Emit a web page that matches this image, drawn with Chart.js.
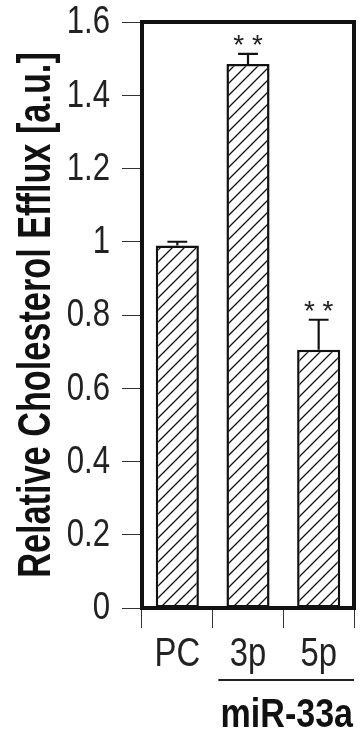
<!DOCTYPE html>
<html>
<head>
<meta charset="utf-8">
<script src="https://cdn.jsdelivr.net/npm/chart.js@4"></script>
<style>
  html, body { margin: 0; padding: 0; background: #fff; }
  #wrap { width: 361px; height: 737px; position: relative; }
</style>
</head>
<body>
<div id="wrap"><canvas id="c" width="361" height="737"></canvas></div>
<script>
// Relative cholesterol efflux for the control and the two miR-33a strands
const categories = ['PC', '3p', '5p'];
const effluxValues = [0.99, 1.485, 0.705];
const effluxErrors = [0.01, 0.028, 0.082];
const significance = ['', '**', '**'];
const yTickValues = [0, 0.2, 0.4, 0.6, 0.8, 1, 1.2, 1.4, 1.6];
const yTickLabels = ['0', '0.2', '0.4', '0.6', '0.8', '1', '1.2', '1.4', '1.6'];
const groupLabel = 'miR-33a';
const groupMembers = [1, 2];
const yTitle = 'Relative Cholesterol Efflux [a.u.]';

const SANS = "'Liberation Sans', Arial, Helvetica, sans-serif";
const NARROW_X = 0.82; // horizontal squeeze giving a condensed Helvetica look

// text squeezed along its own writing direction
function condensedText(ctx, text, x, y, opts) {
  ctx.save();
  ctx.translate(x, y);
  if (opts.rotate) ctx.rotate(opts.rotate);
  ctx.scale(opts.squeeze || NARROW_X, 1);
  ctx.font = opts.font;
  ctx.fillStyle = opts.color || '#222';
  ctx.textAlign = opts.align || 'left';
  ctx.textBaseline = opts.baseline || 'alphabetic';
  ctx.fillText(text, 0, 0);
  ctx.restore();
}

// diagonal hatch fill for the bars
function makeHatch() {
  const s = 12;
  const p = document.createElement('canvas');
  p.width = s; p.height = s;
  const g = p.getContext('2d');
  g.fillStyle = '#fff';
  g.fillRect(0, 0, s, s);
  g.strokeStyle = '#111';
  g.lineWidth = 1.3;
  g.beginPath();
  g.moveTo(-2, s + 2); g.lineTo(s + 2, -2);
  g.moveTo(-2, 2); g.lineTo(2, -2);
  g.moveTo(s - 2, s + 2); g.lineTo(s + 2, s - 2);
  g.stroke();
  return g.createPattern(p, 'repeat');
}

const ctx = document.getElementById('c').getContext('2d');

const framePlugin = {
  id: 'frame',
  afterDatasetsDraw(chart) {
    const { ctx, chartArea: a } = chart;
    ctx.save();
    ctx.strokeStyle = '#111';
    ctx.lineWidth = 4;
    ctx.strokeRect(a.left, a.top, a.right - a.left, a.bottom - a.top);
    ctx.restore();
  }
};

// axis labels and titles in the condensed face
const labelPlugin = {
  id: 'axisText',
  afterDraw(chart) {
    const { ctx, chartArea: a } = chart;
    const x = chart.scales.x;
    const y = chart.scales.y;
    const tickRight = a.left - y.options.grid.tickLength - 12;
    yTickValues.forEach((v, i) => {
      condensedText(ctx, yTickLabels[i], tickRight, y.getPixelForValue(v) + 1, {
        font: '38px ' + SANS, align: 'right', baseline: 'middle', color: '#222'
      });
    });
    categories.forEach((c, i) => {
      condensedText(ctx, c, x.getPixelForValue(i), a.bottom + 58, {
        font: '40px ' + SANS, align: 'center', color: '#222'
      });
    });
    condensedText(ctx, yTitle, 50, (a.top + a.bottom) / 2, {
      font: 'bold 46px ' + SANS, align: 'center', rotate: -Math.PI / 2,
      squeeze: 0.745, color: '#111'
    });
  }
};

const errorBarPlugin = {
  id: 'errorBars',
  afterDatasetsDraw(chart) {
    const { ctx } = chart;
    const y = chart.scales.y;
    const meta = chart.getDatasetMeta(0);
    ctx.save();
    ctx.strokeStyle = '#111';
    ctx.lineWidth = 2.2;
    meta.data.forEach((bar, i) => {
      const top = y.getPixelForValue(effluxValues[i] + effluxErrors[i]);
      const base = y.getPixelForValue(effluxValues[i]);
      const half = bar.width * 0.23;
      ctx.beginPath();
      ctx.moveTo(bar.x, base);
      ctx.lineTo(bar.x, top);
      ctx.moveTo(bar.x - half, top);
      ctx.lineTo(bar.x + half, top);
      ctx.stroke();
      if (significance[i]) {
        condensedText(ctx, significance[i].split('').join(' '), bar.x, top, {
          font: '28px ' + SANS, align: 'center', squeeze: 1, color: '#222'
        });
      }
    });
    ctx.restore();
  }
};

const groupPlugin = {
  id: 'groupLabel',
  afterDraw(chart) {
    const { ctx, chartArea: a } = chart;
    const x = chart.scales.x;
    const step = x.getPixelForValue(1) - x.getPixelForValue(0);
    const left = x.getPixelForValue(groupMembers[0]) - step * 0.42;
    const right = x.getPixelForValue(groupMembers[groupMembers.length - 1]) + step * 0.5;
    const lineY = a.bottom + 72;
    ctx.save();
    ctx.strokeStyle = '#222';
    ctx.lineWidth = 2;
    ctx.beginPath();
    ctx.moveTo(left, lineY);
    ctx.lineTo(right, lineY);
    ctx.stroke();
    ctx.restore();
    condensedText(ctx, groupLabel, right - 1, a.bottom + 119, {
      font: 'bold 41px ' + SANS, align: 'right', squeeze: 0.83, color: '#111'
    });
  }
};

new Chart(ctx, {
  type: 'bar',
  data: {
    labels: categories,
    datasets: [{
      data: effluxValues,
      backgroundColor: makeHatch(),
      borderColor: '#111',
      borderWidth: 2.5,
      borderSkipped: false,
      categoryPercentage: 1,
      barPercentage: 0.61
    }]
  },
  options: {
    responsive: false,
    animation: false,
    devicePixelRatio: 1,
    layout: { padding: { left: 0, right: 7, top: 22, bottom: 0 } },
    plugins: { legend: { display: false }, tooltip: { enabled: false } },
    scales: {
      x: {
        afterFit(s) { s.height = 129; },
        grid: {
          offset: true,
          drawOnChartArea: false,
          drawTicks: true,
          tickLength: 20,
          color: '#333',
          lineWidth: 1
        },
        border: { display: false },
        ticks: { display: false }
      },
      y: {
        min: 0,
        max: 1.6,
        afterFit(s) { s.width = 142; },
        afterBuildTicks(s) { s.ticks = yTickValues.map(v => ({ value: v })); },
        grid: {
          drawOnChartArea: false,
          drawTicks: true,
          tickLength: 20,
          color: '#333',
          lineWidth: 1
        },
        border: { display: false },
        ticks: { display: false }
      }
    }
  },
  plugins: [framePlugin, errorBarPlugin, groupPlugin, labelPlugin]
});
</script>
</body>
</html>
